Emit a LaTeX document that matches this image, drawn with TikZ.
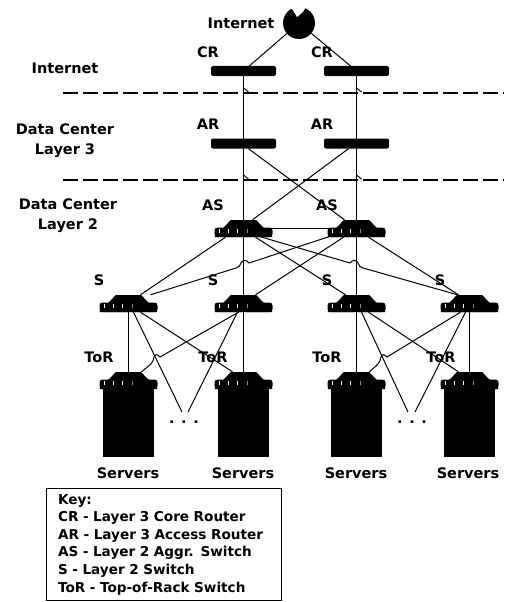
\documentclass[tikz,border=0pt]{standalone}
\usepackage{fontspec}
\setmainfont{DejaVu Sans}
\usetikzlibrary{calc,shapes.geometric}
\tikzset{
    lbl/.style={font=\fontsize{14.5}{20}\selectfont\bfseries, inner sep=0pt, align=center},
    bar/.style={fill=black, rounded corners=2pt, minimum width=65pt, minimum height=10pt, inner sep=0pt},
    switchbox/.style={trapezium, trapezium stretches=true, trapezium left angle=57, trapezium right angle=57,
        fill=black, minimum width=58pt, minimum height=17pt, inner sep=1pt},
    rack/.style={fill=black, minimum width=51pt, minimum height=72pt, inner sep=0pt},
    link/.style={line width=1pt},
    layerline/.style={line width=1.6pt, dash pattern=on 15pt off 5pt}
}
\begin{document}
\begin{tikzpicture}[x=1pt,y=-1pt]
        \useasboundingbox (0,0) rectangle (504,602);

        % layers
        \draw[layerline] (63,93) -- (504,93);
        \draw[layerline] (63,180) -- (504,180);
        \foreach \x in {243.5,356.5}
            \foreach \y in {88,175}
                \draw[link] (\x,\y) -- ++(5,4);

        % internet
        \node[circle, fill=black, minimum size=32pt, inner sep=0pt] (cloud) at (299,23) {};
        \fill[white] (289,5) -- (294,12) -- (297,17) -- (303,12) -- (307,5) -- cycle;
        \node[lbl] (inetname) at (241,23) {Internet};

        % routers and switches
        \node[bar] (cr1) at (243.5,71) {};
        \node[bar] (cr2) at (356.5,71) {};
        \node[bar] (ar1) at (243.5,143.5) {};
        \node[bar] (ar2) at (356.5,143.5) {};
        \node[switchbox] (as1) at (243.5,228.5) {};
        \node[switchbox] (as2) at (356.5,228.5) {};
        \node[switchbox] (s1) at (128.5,303.5) {};
        \node[switchbox] (s2) at (243.5,303.5) {};
        \node[switchbox] (s3) at (356.5,303.5) {};
        \node[switchbox] (s4) at (469.5,303.5) {};
        \foreach \n/\x in {1/128.5,2/243.5,3/356.5,4/469.5}{
            \node[rack] (rack\n) at (\x,421) {};
            \node[switchbox] (tor\n) at (\x,380.5) {};
        }

        % ends at the dots
        \coordinate (end1a) at (182,412);
        \coordinate (end1b) at (188,412);
        \coordinate (end2a) at (408,412);
        \coordinate (end2b) at (415,412);

        \draw[link] (cloud) -- (cr1.center);
        \draw[link] (cloud) -- (cr2.center);
        \draw[link] (cr1.center) -- (ar1.center) -- (as1.center) -- (s2.center) -- (tor2.center);
        \draw[link] (cr2.center) -- (ar2.center) -- (as2.center) -- (s3.center) -- (tor3.center);
        \draw[link] ($(ar1.south)+(5,0)$) -- ($(as2.north)+(-12,0)$);
        \draw[link] ($(ar2.south)+(-8,0)$) -- ($(as1.north)+(9,0)$);
        \draw[link] (as1.center) -- (as2.center);

        \draw[link] ($(as1.south)+(-18,0)$) -- ($(s1.north)+(12,0)$);
        \draw[link] ($(as1.south)+(12,0)$) -- ($(s3.north)+(-11,0)$);
        \draw[link] ($(as2.south)+(-13,0)$) -- ($(s2.north)+(12,0)$);
        \draw[link] ($(as2.south)+(12,0)$) -- ($(s4.north)+(-11,0)$);
        % these two jump over the uplinks
        \draw[link] ($(as1.south)+(15,-1)$) -- (350,263) .. controls (353,259) and (356,260) .. (358,263)
            .. controls (359,266) and (360,267) .. (363,268) -- ($(s4.north)+(-12,0)$);
        \draw[link] ($(as2.south)+(-26,-1)$) -- (249,263) .. controls (246,259) and (243,260) .. (241,263)
            .. controls (240,266) and (239,267) .. (236,268) -- ($(s1.north)+(22,0)$);

        \draw[link] (s1.center) -- (tor1.center);
        \draw[link] (s4.center) -- (tor4.center);
        \draw[link] ($(s1.south)+(5,0)$) -- (end1a);
        \draw[link] ($(s2.south)+(-6,0)$) -- (end1b);
        \draw[link] ($(s1.south)+(12,0)$) -- ($(tor2.north)+(-11,0)$);
        \draw[link] ($(s3.south)+(5,0)$) -- (end2a);
        \draw[link] ($(s4.south)+(-4,0)$) -- (end2b);
        \draw[link] ($(s3.south)+(12,0)$) -- ($(tor4.north)+(-11,0)$);
        \draw[link] ($(s2.south)+(-5,0)$) -- (160,357) .. controls (157,354) and (155,354) .. (154,357)
            .. controls (153,360) and (153,362) .. (151,364) -- ($(tor1.north)+(13,0)$);
        \draw[link] ($(s4.south)+(-9,0)$) -- (387,357) .. controls (384,354) and (382,354) .. (381,357)
            .. controls (380,360) and (380,362) .. (378,364) -- ($(tor3.north)+(13,0)$);

        % base and ports
        \foreach \n in {as1,as2,s1,s2,s3,s4,tor1,tor2,tor3,tor4}{
            \fill[rounded corners=3pt] ($(\n.center)+(-29,-1)$) rectangle ($(\n.center)+(29,8.5)$);
            \foreach \dx/\c in {-25/white,-16/white,-7/white,3/white!55!black}
                \fill[\c] ($(\n.center)+(\dx,0.5)$) rectangle ++(1.6,4);
        }

        % labels
        \node[lbl] (crname1) at (208,52) {CR};
        \node[lbl] (crname2) at (322,52) {CR};
        \node[lbl] (arname1) at (208,124) {AR};
        \node[lbl] (arname2) at (322,124) {AR};
        \node[lbl] (asname1) at (213,205) {AS};
        \node[lbl] (asname2) at (327,205) {AS};
        \foreach \n/\x in {1/99,2/213,3/327,4/440}
            \node[lbl] (sname\n) at (\x,280) {S};
        \foreach \n/\x in {1/99,2/213,3/327,4/441}
            \node[lbl] (torname\n) at (\x,357) {ToR};
        \foreach \n/\x in {1/128,2/243,3/356,4/468}
            \node[lbl] (srvname\n) at (\x,473) {Servers};
        \node[lbl] (dots1) at (184,422) {. . .};
        \node[lbl] (dots2) at (412,422) {. . .};

        \node[lbl] (inetlayer) at (65,68) {Internet};
        \node[lbl] (dc3) at (65,141) {Data Center\\Layer 3};
        \node[lbl] (dc2) at (68,216) {Data Center\\Layer 2};

        % key
        \node[draw, line width=1.1pt, anchor=north west, minimum width=235pt, minimum height=112pt,
            text width=220pt, inner xsep=7.5pt, inner ysep=0pt, align=left,
            font=\fontsize{13.6}{17.6}\selectfont\bfseries] (key) at (46,488)
            {\hspace{4pt}Key:\\\hspace{4pt}CR - Layer 3 Core Router\\\hspace{4pt}AR - Layer 3 Access Router\\\hspace{4pt}AS - Layer 2 Aggr. Switch\\\hspace{4pt}S - Layer 2 Switch\\\hspace{4pt}ToR - Top-of-Rack Switch};
\end{tikzpicture}
\end{document}
